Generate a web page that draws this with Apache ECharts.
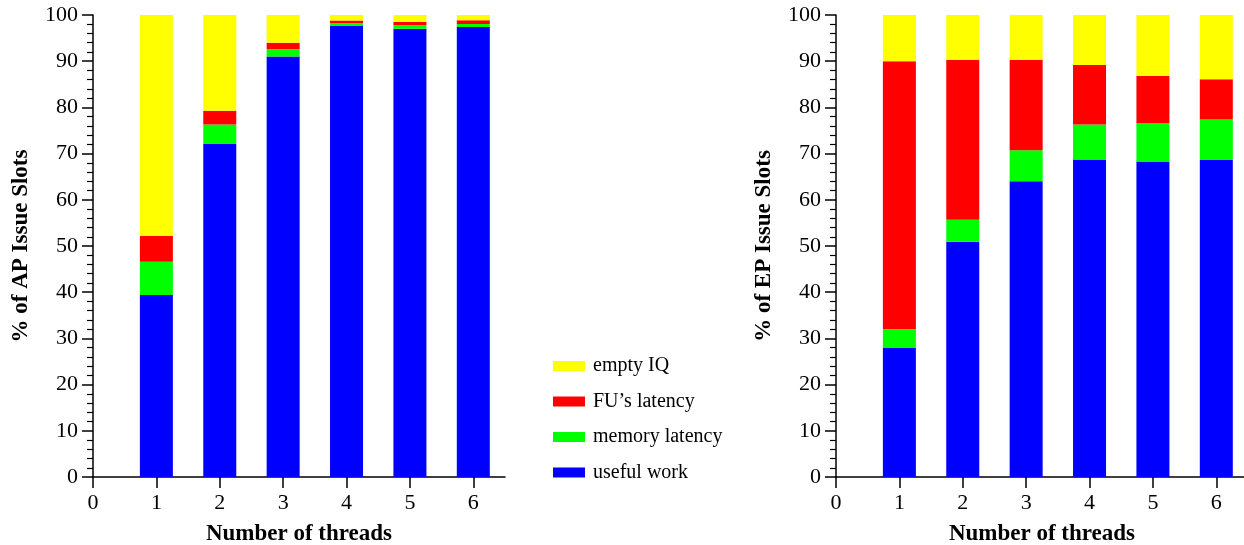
<!DOCTYPE html>
<html>
<head>
<meta charset="utf-8">
<script src="https://cdn.jsdelivr.net/npm/echarts@6/dist/echarts.min.js"></script>
<style>
  html, body { margin: 0; padding: 0; background: #fff; }
  #chart { width: 1244px; height: 545px; }
</style>
</head>
<body>
<div id="chart"></div>
<script>
// thread counts on the x axis and the tick labels shown
const threads = [1, 2, 3, 4, 5, 6]
const xTicks = [0, 1, 2, 3, 4, 5, 6]

const seriesNames = ['useful work', 'memory latency', 'FU’s latency', 'empty IQ']
const seriesColors = ['#0000ff', '#00ff00', '#ff0000', '#ffff00']
const legendOrder = ['empty IQ', 'FU’s latency', 'memory latency', 'useful work']

// AP issue slots (%), stacked bottom to top
const apUseful = [39.4, 72.1, 91.0, 97.6, 97.0, 97.4]
const apMemory = [7.2, 4.2, 1.6, 0.6, 0.8, 0.65]
const apFU = [5.6, 3.0, 1.4, 0.6, 0.7, 0.8]
const apEmpty = [47.8, 20.7, 6.0, 1.2, 1.5, 1.15]

// EP issue slots (%)
const epUseful = [27.9, 50.9, 64.0, 68.7, 68.3, 68.6]
const epMemory = [4.1, 4.8, 6.7, 7.6, 8.3, 8.8]
const epFU = [58.0, 34.6, 19.6, 12.9, 10.2, 8.7]
const epEmpty = [10.0, 9.7, 9.7, 10.8, 13.2, 13.9]

const serif = "'Liberation Serif', 'Times New Roman', serif"

const chart = echarts.init(document.getElementById('chart'))

const makeXAxis = (gridIndex) => ({
  type: 'value',
  gridIndex,
  min: 0,
  max: 6.5,
  interval: 1,
  name: 'Number of threads',
  nameLocation: 'middle',
  nameGap: 46,
  nameTextStyle: { fontFamily: serif, fontWeight: 'bold', fontSize: 23, color: '#000' },
  axisLine: { lineStyle: { color: '#000', width: 1.5 } },
  axisTick: { show: true, length: 11, lineStyle: { color: '#000', width: 1.5 }, customValues: xTicks },
  axisLabel: { fontFamily: serif, fontSize: 22, color: '#000', margin: 15, customValues: xTicks },
  splitLine: { show: false }
})

const makeYAxis = (gridIndex, title) => ({
  type: 'value',
  gridIndex,
  min: 0,
  max: 100,
  interval: 10,
  name: title,
  nameLocation: 'middle',
  nameGap: 60,
  nameTextStyle: { fontFamily: serif, fontWeight: 'bold', fontSize: 23, color: '#000' },
  axisLine: { show: true, lineStyle: { color: '#000', width: 1.5 } },
  axisTick: { show: true, length: 11, lineStyle: { color: '#000', width: 1.5 } },
  minorTick: { show: true, splitNumber: 5, length: 6, lineStyle: { color: '#000', width: 1.2 } },
  axisLabel: { fontFamily: serif, fontSize: 22, color: '#000', margin: 15 },
  splitLine: { show: false }
})

// value first, thread second, so the stack runs on the y values
const pairs = (vals) => vals.map((v, i) => [v, threads[i]])

const makeSeries = (axisIndex, stackName, groups) =>
  groups.map((vals, i) => ({
    name: seriesNames[i],
    type: 'bar',
    stack: stackName,
    xAxisIndex: axisIndex,
    yAxisIndex: axisIndex,
    encode: { x: 1, y: 0 },
    barWidth: 33,
    itemStyle: { color: seriesColors[i] },
    emphasis: { disabled: true },
    data: pairs(vals)
  }))

chart.setOption({
  animation: false,
  backgroundColor: '#fff',
  legend: {
    data: legendOrder,
    orient: 'vertical',
    left: 548,
    top: 351,
    icon: 'rect',
    itemWidth: 32,
    itemHeight: 10,
    itemGap: 15.5,
    textStyle: { fontFamily: serif, fontSize: 20, color: '#000', lineHeight: 20, padding: [0, 0, 0, 3] }
  },
  grid: [
    { left: 93, top: 15, width: 412, height: 462, outerBoundsMode: 'none' },
    { left: 836, top: 15, width: 412, height: 462, outerBoundsMode: 'none' }
  ],
  xAxis: [makeXAxis(0), makeXAxis(1)],
  yAxis: [makeYAxis(0, '% of AP Issue Slots'), makeYAxis(1, '% of EP Issue Slots')],
  series: [
    ...makeSeries(0, 'ap', [apUseful, apMemory, apFU, apEmpty]),
    ...makeSeries(1, 'ep', [epUseful, epMemory, epFU, epEmpty])
  ]
})
</script>
</body>
</html>
